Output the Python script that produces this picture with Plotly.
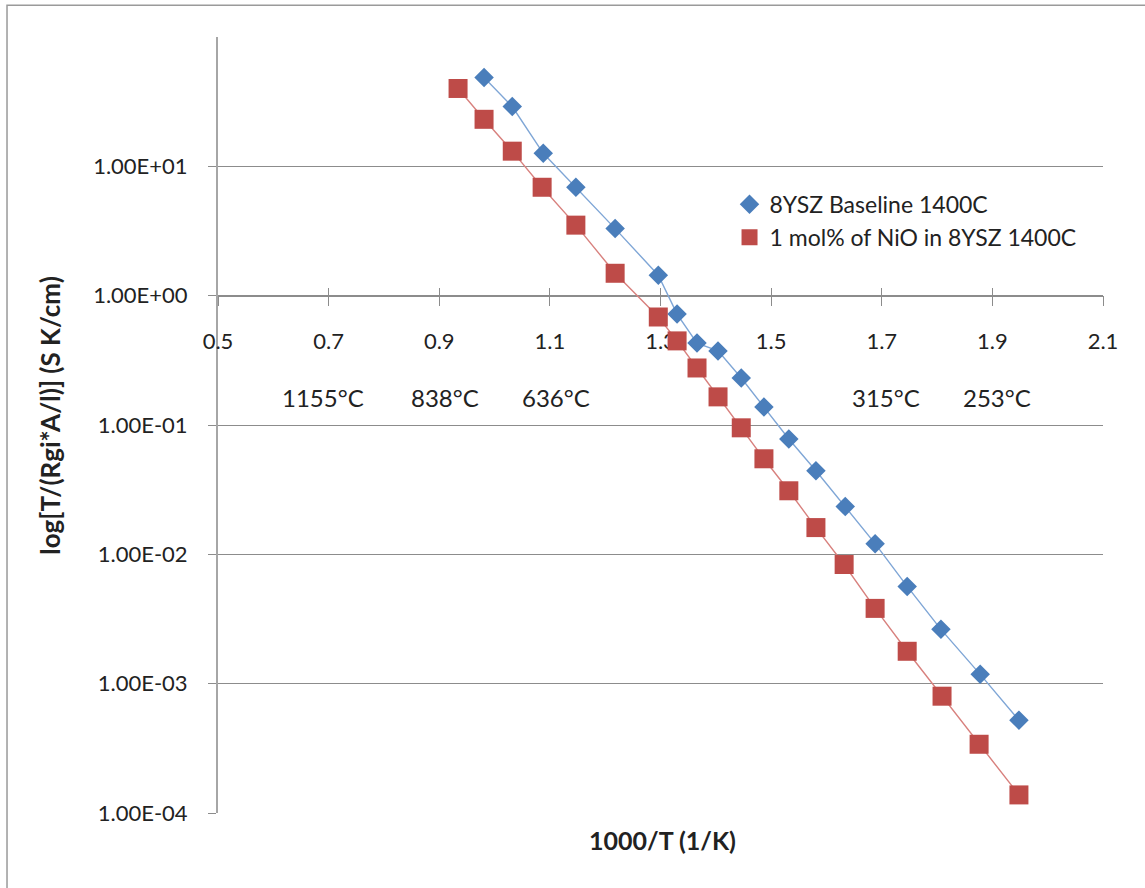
import plotly.graph_objects as go

# ---- data ----
x_base = [0.981, 1.032, 1.088, 1.147, 1.218, 1.296, 1.330, 1.366, 1.404, 1.446,
          1.487, 1.532, 1.581, 1.634, 1.688, 1.746, 1.807, 1.878, 1.948]
y_base = [48.7, 29.0, 12.6, 6.9, 3.3, 1.44, 0.72, 0.43, 0.374, 0.231,
          0.138, 0.078, 0.0443, 0.0234, 0.0121, 0.00565, 0.00263, 0.00118, 0.000522]

x_nio = [0.934, 0.981, 1.032, 1.086, 1.147, 1.218, 1.296, 1.330, 1.366, 1.404,
         1.446, 1.487, 1.532, 1.581, 1.632, 1.688, 1.746, 1.809, 1.876, 1.948]
y_nio = [40.0, 23.1, 13.1, 6.89, 3.51, 1.49, 0.684, 0.447, 0.276, 0.165,
         0.0951, 0.0548, 0.0310, 0.0161, 0.00834, 0.00382, 0.00178, 0.00080, 0.00034, 0.000138]

series_names = ["8YSZ Baseline 1400C", "1 mol% of NiO in 8YSZ 1400C"]

x_ticks = [0.5, 0.7, 0.9, 1.1, 1.3, 1.5, 1.7, 1.9, 2.1]
x_ticktext = ["0.5", "0.7", "0.9", "1.1", "1.3", "1.5", "1.7", "1.9", "2.1"]
y_ticks = [1e-4, 1e-3, 1e-2, 1e-1, 1e0, 1e1]
y_ticktext = ["1.00E-04", "1.00E-03", "1.00E-02", "1.00E-01", "1.00E+00", "1.00E+01"]

temp_labels = ["1155°C", "838°C", "636°C", "315°C", "253°C"]
temp_label_x = [0.690, 0.910, 1.111, 1.708, 1.908]

BLUE = "#4A7EBB"
RED = "#BE4B48"
BLUE_LINE = "#7FA6D6"
RED_LINE = "#D8817E"
GRID = "#8C8C8C"
AXIS = "#A6A6A6"

fig = go.Figure()

# connecting lines (no legend)
fig.add_trace(go.Scatter(x=x_base, y=y_base, mode="lines",
                         line=dict(color=BLUE_LINE, width=1.4),
                         showlegend=False, hoverinfo="skip"))
fig.add_trace(go.Scatter(x=x_nio, y=y_nio, mode="lines",
                         line=dict(color=RED_LINE, width=1.4),
                         showlegend=False, hoverinfo="skip"))
# markers
fig.add_trace(go.Scatter(x=x_base, y=y_base, mode="markers", name=series_names[0],
                         marker=dict(symbol="diamond", size=15, color=BLUE,
                                     line=dict(width=0))))
fig.add_trace(go.Scatter(x=x_nio, y=y_nio, mode="markers", name=series_names[1],
                         marker=dict(symbol="square", size=19, color=RED,
                                     line=dict(width=0))))

# invisible trace for the overlay x axis (crossing tick marks)
fig.add_trace(go.Scatter(x=[x_ticks[0]], y=[y_ticks[0]], xaxis="x2", mode="markers",
                         marker=dict(opacity=0), showlegend=False, hoverinfo="skip"))

TICKFONT = dict(family="Lato, sans-serif", size=22, color="#222222")

fig.update_layout(
    width=1145, height=888,
    margin=dict(l=218, r=42, t=37, b=75),
    paper_bgcolor="white", plot_bgcolor="white",
    showlegend=True,
    legend=dict(x=0.578, y=0.812, xanchor="left", yanchor="top",
                font=dict(family="Lato, sans-serif", size=23, color="#222222"),
                bgcolor="rgba(0,0,0,0)", itemwidth=30, tracegroupgap=0),
    xaxis=dict(range=[0.5, 2.1], tickvals=x_ticks, ticktext=x_ticktext,
               anchor="free", position=4 / 6,
               showgrid=False, zeroline=False,
               showline=True, linecolor=GRID, linewidth=1.5,
               ticks="outside", ticklen=10, tickwidth=1.2, tickcolor=GRID,
               ticklabelstandoff=16, tickfont=TICKFONT,
               layer="below traces"),
    xaxis2=dict(range=[0.5, 2.1], tickvals=x_ticks, overlaying="x",
                anchor="free", position=4 / 6, side="bottom",
                showgrid=False, zeroline=False, showline=False,
                ticks="inside", ticklen=8, tickwidth=1.2, tickcolor=GRID,
                showticklabels=False, layer="below traces"),
    yaxis=dict(type="log", range=[-4, 2], tickvals=y_ticks, ticktext=y_ticktext,
               showgrid=True, gridcolor=GRID, gridwidth=1.2,
               zeroline=False, showline=True, linecolor=AXIS, linewidth=2,
               ticks="outside", ticklen=8, tickwidth=1.2, tickcolor=GRID,
               ticklabelstandoff=16, tickfont=TICKFONT,
               layer="below traces"),
)

# temperature labels
for lbl, xv in zip(temp_labels, temp_label_x):
    fig.add_annotation(x=xv, y=-0.79, xref="x", yref="y", text=lbl, showarrow=False,
                       font=dict(family="Lato, sans-serif", size=24, color="#222222"))

# axis titles
fig.add_annotation(x=0.502, y=-0.0348, xref="paper", yref="paper",
                   xanchor="center", yanchor="middle",
                   text="<b>1000/T (1/K)</b>", showarrow=False,
                   font=dict(family="Lato, sans-serif", size=25, color="#222222"))
fig.add_annotation(x=-0.19, y=0.513, xref="paper", yref="paper", textangle=-90,
                   xanchor="center", yanchor="middle",
                   text="<b>log[T/(Rgi*A/l)] (S K/cm)</b>", showarrow=False,
                   font=dict(family="Lato, sans-serif", size=26, color="#222222"))

# outer frame
fig.add_shape(type="rect", xref="paper", yref="paper",
              x0=-0.2384, y0=-0.2, x1=1.2, y1=1.041,
              line=dict(color="#9A9A9A", width=1.5), layer="below")

fig.write_html("out.html")
